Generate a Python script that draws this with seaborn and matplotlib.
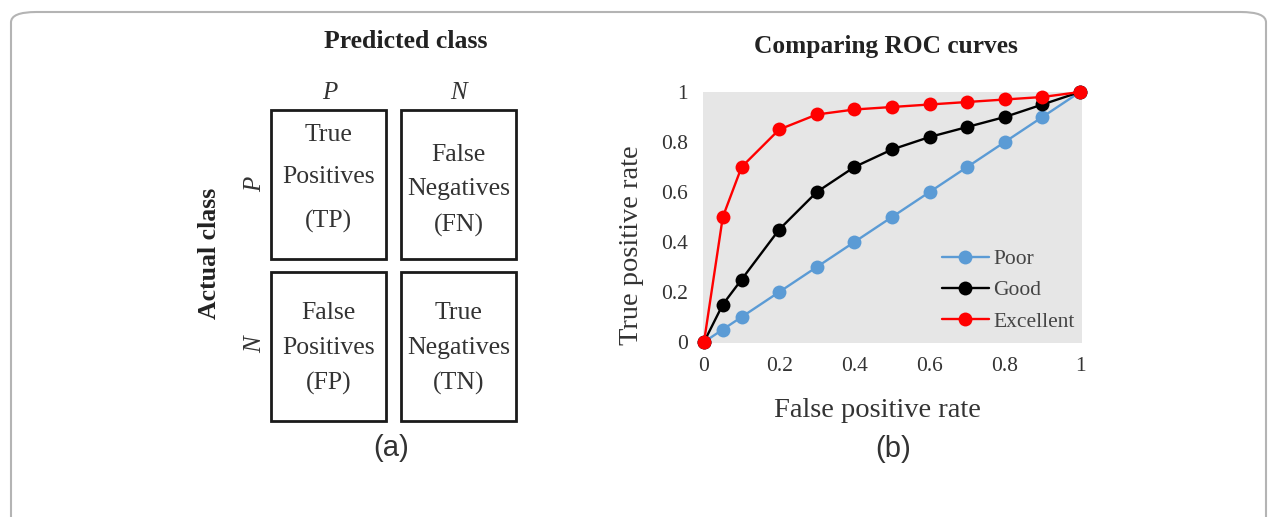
import numpy as np
import pandas as pd
import seaborn as sns
import matplotlib.pyplot as plt
from matplotlib.patches import Rectangle, FancyBboxPatch

# --- data ---
fpr = [0, 0.05, 0.1, 0.2, 0.3, 0.4, 0.5, 0.6, 0.7, 0.8, 0.9, 1.0]
tpr_poor = [0, 0.05, 0.1, 0.2, 0.3, 0.4, 0.5, 0.6, 0.7, 0.8, 0.9, 1.0]
tpr_good = [0, 0.15, 0.25, 0.45, 0.6, 0.7, 0.77, 0.82, 0.86, 0.9, 0.95, 1.0]
tpr_excellent = [0, 0.5, 0.7, 0.85, 0.91, 0.93, 0.94, 0.95, 0.96, 0.97, 0.98, 1.0]
series_names = ["Poor", "Good", "Excellent"]
series_colors = ["#5b9bd5", "#000000", "#ff0000"]
ticks = [0, 0.2, 0.4, 0.6, 0.8, 1.0]
tick_labels = ["0", "0.2", "0.4", "0.6", "0.8", "1"]

class_labels = ["P", "N"]
cell_text = [["True\nPositives\n(TP)", "False\nNegatives\n(FN)"],
             ["False\nPositives\n(FP)", "True\nNegatives\n(TN)"]]

W, H = 1269, 517
SERIF = ["Liberation Serif", "DejaVu Serif"]
SANS = ["Liberation Sans", "DejaVu Sans"]


def fx(x):
    return x / W


def fy(y):
    return 1 - y / H


sns.set_theme(style="white")
plt.rcParams["font.family"] = SERIF

fig = plt.figure(figsize=(W / 100, H / 100), dpi=100)

# outer rounded frame
frame = FancyBboxPatch((fx(11), fy(530)), fx(1255), fy(12) - fy(530),
                       boxstyle="round,pad=0,rounding_size=0.02",
                       transform=fig.transFigure, fill=False,
                       edgecolor="#b4b4b4", linewidth=1.5, clip_on=False)
fig.patches.append(frame)

# ---- (a) confusion matrix ----
axm = fig.add_axes([fx(271), fy(421), fx(516 - 271), fy(110) - fy(421)])
axm.set_xlim(0, 2)
axm.set_ylim(2, 0)
axm.axis("off")
bw, bh = 0.94, 0.96
for r in range(2):
    for c in range(2):
        x0 = c * (2 - bw)
        y0 = r * (2 - bh)
        axm.add_patch(Rectangle((x0, y0), bw, bh, fill=False,
                                edgecolor="#1a1a1a", linewidth=2,
                                clip_on=False))
        if (r, c) == (0, 0):
            ls, dy = 2.2, -0.04
        elif r == 0:
            ls, dy = 1.75, 0.035
        else:
            ls, dy = 1.75, 0.015
        axm.text(x0 + bw / 2, y0 + bh / 2 + dy, cell_text[r][c], ha="center",
                 va="center", fontsize=18.5, color="#333333",
                 linespacing=ls)

fig.text(fx(406), fy(42), "Predicted class", ha="center", va="center",
         fontsize=18.5, fontweight="bold", color="#222222")
fig.text(fx(330), fy(93), class_labels[0], ha="center", va="center",
         fontsize=18, style="italic", color="#333333")
fig.text(fx(458), fy(93), class_labels[1], ha="center", va="center",
         fontsize=18, style="italic", color="#333333")
fig.text(fx(210), fy(253), "Actual class", ha="center", va="center",
         fontsize=18.5, fontweight="bold", rotation=90, color="#222222")
fig.text(fx(255), fy(184), class_labels[0], ha="center", va="center",
         fontsize=18, style="italic", rotation=90, color="#333333")
fig.text(fx(255), fy(345), class_labels[1], ha="center", va="center",
         fontsize=18, style="italic", rotation=90, color="#333333")
fig.text(fx(391), fy(448), "(a)", ha="center", va="center", fontsize=21,
         family=SANS, color="#333333")

# ---- (b) ROC curves ----
df = pd.DataFrame({
    "fpr": fpr * 3,
    "tpr": tpr_poor + tpr_good + tpr_excellent,
    "curve": [n for n in series_names for _ in fpr],
})

ax = fig.add_axes([fx(703), fy(343), fx(1082 - 703), fy(92) - fy(343)])
ax.set_facecolor("#e6e6e6")
sns.lineplot(data=df, x="fpr", y="tpr", hue="curve", hue_order=series_names,
             palette=series_colors, marker="o", markersize=10,
             markeredgewidth=0, linewidth=1.7, sort=False, ax=ax,
             clip_on=False)
for s in ax.spines.values():
    s.set_visible(False)
ax.set_xlim(-1 / 376, 1 + 2 / 376)
ax.set_ylim(-1 / 250, 1.0)
ax.set_xticks(ticks)
ax.set_xticklabels(tick_labels)
ax.set_yticks(ticks)
ax.set_yticklabels(tick_labels)
ax.tick_params(axis="x", length=0, pad=10, labelsize=15.5, labelcolor="#333333")
ax.tick_params(axis="y", length=0, pad=11, labelsize=15.5, labelcolor="#333333")
ax.grid(False)
ax.set_xlabel("False positive rate", fontsize=20.5, color="#333333")
ax.set_ylabel("True positive rate", fontsize=20.5, color="#333333")
ax.xaxis.set_label_coords(0.46, -0.22)
ax.yaxis.set_label_coords(-0.155, 0.39)
ax.set_title("Comparing ROC curves", fontsize=18.3, fontweight="bold",
             color="#222222", pad=28, x=0.483)

leg = ax.legend(loc="lower left", bbox_to_anchor=(0.63, 0.045), frameon=False,
                fontsize=15.5, handlelength=2.2, handletextpad=0.2,
                labelspacing=0.52, borderaxespad=0, borderpad=0)
for t in leg.get_texts():
    t.set_color("#444444")

fig.text(fx(893), fy(449), "(b)", ha="center", va="center", fontsize=21,
         family=SANS, color="#333333")

fig.savefig("out.png", dpi=100)
